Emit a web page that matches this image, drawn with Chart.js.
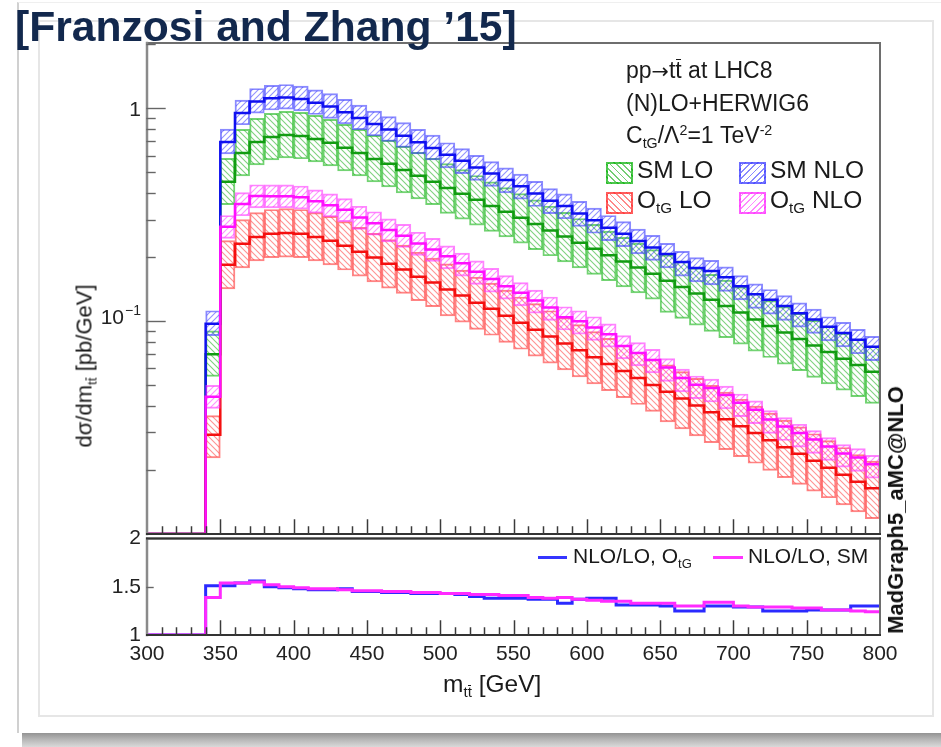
<!DOCTYPE html>
<html>
<head>
<meta charset="utf-8">
<title>ttbar invariant mass with O_tG</title>
<script src="https://cdn.jsdelivr.net/npm/chart.js@4.4.1/dist/chart.umd.min.js"></script>
<style>
  html, body { margin: 0; padding: 0; background: #ffffff; }
  body { position: relative; width: 941px; height: 747px; overflow: hidden;
         font-family: "Liberation Sans", Arial, Helvetica, sans-serif; color: #1c1c1c; }
  .abs { position: absolute; white-space: nowrap; }
  #shadow { left: 22px; top: 732px; width: 919px; height: 15px;
            background: linear-gradient(to bottom, #8e8e8e 0%, #b3b3b3 45%, #d9d9d9 100%); }
  #card { left: 17px; top: 2px; width: 940px; height: 731px; background: #fff;
          border-left: 2px solid #d0d0d0; border-top: 1px solid #efefef; box-sizing: border-box; }
  #inner { left: 38px; top: 20px; width: 896px; height: 697px; border: 2px solid #e6e6e6; box-sizing: border-box; }
  #title { left: 15px; top: 5px; font-size: 42.6px; line-height: 42px; font-weight: bold; color: #12284d; }
  canvas { position: absolute; left: 0; }
  #mainChart { top: 0; }
  #ratioChart { top: 520px; }
  .note { font-size: 23px; line-height: 23px; color: #1a1a1a; }
  .entry { font-size: 24.5px; line-height: 24px; color: #1a1a1a; }
  .sub { position: relative; top: 0.35em; font-size: 0.62em; }
  .sup { position: relative; top: -0.55em; font-size: 0.62em; }
  .ov { position: relative; }
  .ov::after { content: ''; position: absolute; left: 0.04em; right: 0.04em; top: 0.1em;
               border-top: 1px solid currentColor; }
  .arrow { font-family: "DejaVu Sans", sans-serif; font-size: 0.9em; }
  .box { width: 27px; height: 22px; border: 2px solid; box-sizing: border-box; }
  #ytitle { left: 86px; top: 366px; font-size: 22px; line-height: 22px;
            transform: translate(-50%, -50%) rotate(-90deg); color: #1a1a1a; }
  #mg { left: 896px; top: 510px; font-size: 22px; line-height: 22px; font-weight: bold;
        transform: translate(-50%, -50%) rotate(-90deg); color: #111; }
  #xtitle { left: 443px; top: 672px; font-size: 24.5px; line-height: 24px; color: #1a1a1a; }
  .rleg { font-size: 21px; line-height: 21px; color: #1a1a1a; }
  .rline { height: 3px; }
</style>
</head>
<body>
<div id="shadow" class="abs"></div>
<div id="card" class="abs"></div>
<div id="inner" class="abs"></div>

<canvas id="mainChart" width="941" height="540"></canvas>
<canvas id="ratioChart" width="941" height="180"></canvas>

<div id="title" class="abs">[Franzosi and Zhang ’15]</div>

<div class="abs note" style="left:626px;top:59px">pp<span class="arrow">→</span>t<span class="ov">t</span> at LHC8</div>
<div class="abs note" style="left:626px;top:92px">(N)LO+HERWIG6</div>
<div class="abs note" style="left:626px;top:124px">C<span class="sub">tG</span>/Λ<span class="sup">2</span>=1 TeV<span class="sup">-2</span></div>

<div class="abs box" style="left:606px;top:162px;border-color:rgba(0,175,0,0.7);background:repeating-linear-gradient(45deg, rgba(0,165,0,0.55) 0 1.2px, transparent 1.2px 4.5px);"></div>
<div class="abs entry" style="left:637px;top:158px">SM LO</div>
<div class="abs box" style="left:739px;top:162px;border-color:rgba(60,60,255,0.75);background:repeating-linear-gradient(-45deg, rgba(40,40,255,0.55) 0 1.2px, transparent 1.2px 4.5px);"></div>
<div class="abs entry" style="left:770px;top:158px">SM NLO</div>
<div class="abs box" style="left:606px;top:192px;border-color:rgba(255,40,40,0.75);background:repeating-linear-gradient(45deg, rgba(255,40,40,0.55) 0 1.2px, transparent 1.2px 4.5px);"></div>
<div class="abs entry" style="left:637px;top:188px">O<span class="sub">tG</span> LO</div>
<div class="abs box" style="left:739px;top:192px;border-color:rgba(255,40,255,0.75);background:repeating-linear-gradient(-45deg, rgba(255,40,255,0.55) 0 1.2px, transparent 1.2px 4.5px);"></div>
<div class="abs entry" style="left:770px;top:188px">O<span class="sub">tG</span> NLO</div>

<div class="abs rline" style="left:538px;top:556px;width:29px;background:#3535ff"></div>
<div class="abs rleg" style="left:573px;top:545px">NLO/LO, O<span class="sub">tG</span></div>
<div class="abs rline" style="left:713px;top:556px;width:30px;background:#ff35ff"></div>
<div class="abs rleg" style="left:748px;top:545px">NLO/LO, SM</div>

<div id="ytitle" class="abs">dσ/dm<span class="sub">t<span class="ov">t</span></span> [pb/GeV]</div>
<div id="xtitle" class="abs">m<span class="sub">t<span class="ov">t</span></span> [GeV]</div>
<div id="mg" class="abs">MadGraph5_aMC@NLO</div>

<script>
// Lower edges of the 10 GeV m_tt bins
const binLow = [340,350,360,370,380,390,400,410,420,430,440,450,460,470,480,490,500,510,520,530,
                540,550,560,570,580,590,600,610,620,630,640,650,660,670,680,690,700,710,720,730,
                740,750,760,770,780,790];
const binWidth = 10;

// dsigma/dm_tt [pb/GeV]: central value and scale-variation envelope
const smLoCentral = [0.070,0.452,0.618,0.696,0.735,0.751,0.743,0.719,0.689,0.653,0.618,0.579,0.549,0.514,0.482,0.452,0.423,0.397,0.372,0.348,0.327,0.306,0.286,0.267,0.250,0.234,0.219,0.204,0.191,0.179,0.167,0.155,0.145,0.135,0.126,0.118,0.110,0.102,0.0950,0.0885,0.0825,0.0768,0.0716,0.0667,0.0622,0.0579];
const smLoUp = [0.090,0.583,0.797,0.898,0.948,0.969,0.958,0.928,0.889,0.842,0.797,0.747,0.708,0.663,0.622,0.583,0.550,0.516,0.484,0.452,0.425,0.398,0.372,0.347,0.325,0.304,0.285,0.265,0.248,0.233,0.217,0.205,0.191,0.178,0.166,0.156,0.145,0.135,0.125,0.117,0.109,0.101,0.0945,0.0880,0.0821,0.0764];
const smLoDown = [0.055,0.353,0.482,0.543,0.573,0.586,0.580,0.561,0.537,0.509,0.482,0.452,0.428,0.401,0.376,0.353,0.321,0.302,0.283,0.264,0.249,0.233,0.217,0.203,0.190,0.178,0.166,0.155,0.145,0.136,0.127,0.110,0.103,0.0959,0.0895,0.0838,0.0781,0.0724,0.0675,0.0628,0.0586,0.0545,0.0508,0.0474,0.0442,0.0411];

const smNloCentral = [0.0973,0.696,0.952,1.079,1.117,1.127,1.107,1.064,1.020,0.960,0.902,0.845,0.796,0.745,0.694,0.651,0.605,0.568,0.528,0.494,0.461,0.431,0.398,0.368,0.348,0.321,0.298,0.275,0.258,0.238,0.222,0.207,0.190,0.178,0.172,0.161,0.146,0.134,0.126,0.118,0.109,0.102,0.0941,0.0881,0.0818,0.0758];
const smNloUp = [0.112,0.800,1.095,1.241,1.285,1.296,1.273,1.224,1.173,1.104,1.037,0.972,0.915,0.857,0.798,0.749,0.690,0.648,0.602,0.563,0.526,0.491,0.454,0.420,0.397,0.366,0.340,0.314,0.294,0.271,0.253,0.232,0.213,0.199,0.193,0.180,0.164,0.150,0.141,0.132,0.122,0.114,0.105,0.0987,0.0916,0.0849];
const smNloDown = [0.0856,0.612,0.838,0.950,0.983,0.992,0.974,0.936,0.898,0.845,0.794,0.744,0.700,0.656,0.611,0.573,0.526,0.494,0.459,0.430,0.401,0.375,0.346,0.320,0.303,0.279,0.259,0.239,0.224,0.207,0.193,0.178,0.163,0.153,0.148,0.138,0.126,0.115,0.108,0.101,0.0937,0.0877,0.0809,0.0758,0.0703,0.0652];

const otgLoCentral = [0.0293,0.184,0.231,0.249,0.258,0.260,0.258,0.249,0.239,0.226,0.212,0.199,0.186,0.175,0.162,0.152,0.141,0.132,0.122,0.1145,0.106,0.0984,0.0913,0.0847,0.0786,0.0730,0.0677,0.0629,0.0583,0.0541,0.0502,0.0466,0.0433,0.0402,0.0373,0.0346,0.0321,0.0298,0.0276,0.0256,0.0238,0.0221,0.0205,0.0190,0.0176,0.0164];
const otgLoUp = [0.036,0.239,0.300,0.324,0.335,0.338,0.335,0.324,0.311,0.294,0.276,0.259,0.242,0.228,0.211,0.198,0.186,0.174,0.161,0.151,0.140,0.130,0.121,0.112,0.104,0.0964,0.0894,0.0830,0.0770,0.0714,0.0663,0.0624,0.0580,0.0539,0.0500,0.0464,0.0430,0.0399,0.0370,0.0343,0.0319,0.0296,0.0275,0.0255,0.0236,0.0220];
const otgLoDown = [0.0228,0.142,0.178,0.192,0.199,0.200,0.199,0.192,0.184,0.174,0.163,0.153,0.143,0.135,0.125,0.117,0.106,0.099,0.0915,0.0859,0.0795,0.0738,0.0685,0.0635,0.0590,0.0548,0.0508,0.0472,0.0437,0.0406,0.0377,0.0336,0.0312,0.0289,0.0269,0.0249,0.0231,0.0215,0.0199,0.0184,0.0171,0.0159,0.0148,0.0137,0.0127,0.0118];

const otgNloCentral = [0.0442,0.278,0.356,0.388,0.387,0.387,0.382,0.366,0.351,0.334,0.307,0.289,0.268,0.252,0.232,0.217,0.202,0.187,0.171,0.158,0.146,0.136,0.125,0.116,0.1045,0.100,0.0934,0.0868,0.0764,0.0709,0.0658,0.0606,0.0541,0.0503,0.0485,0.0450,0.0414,0.0384,0.0345,0.0320,0.0298,0.0278,0.0258,0.0239,0.0229,0.0213];
const otgNloUp = [0.050,0.314,0.402,0.438,0.437,0.437,0.432,0.414,0.397,0.377,0.347,0.327,0.303,0.285,0.262,0.245,0.226,0.209,0.192,0.177,0.164,0.152,0.140,0.130,0.117,0.112,0.105,0.0972,0.0856,0.0794,0.0737,0.0667,0.0595,0.0553,0.0534,0.0495,0.0455,0.0422,0.0380,0.0352,0.0328,0.0306,0.0284,0.0263,0.0252,0.0234];
const otgNloDown = [0.0389,0.245,0.313,0.341,0.341,0.341,0.336,0.322,0.309,0.294,0.270,0.254,0.236,0.222,0.204,0.191,0.176,0.163,0.149,0.137,0.127,0.118,0.109,0.101,0.0909,0.0870,0.0813,0.0755,0.0665,0.0617,0.0572,0.0521,0.0465,0.0433,0.0417,0.0387,0.0356,0.0330,0.0297,0.0275,0.0256,0.0239,0.0222,0.0206,0.0197,0.0183];

// NLO/LO K-factors shown in the lower panel
const ratioOtg = [1.51,1.51,1.54,1.56,1.50,1.49,1.48,1.47,1.47,1.48,1.45,1.45,1.44,1.44,1.43,1.43,1.43,1.42,1.40,1.38,1.38,1.38,1.37,1.37,1.33,1.37,1.38,1.38,1.31,1.31,1.31,1.30,1.25,1.25,1.30,1.30,1.29,1.29,1.25,1.25,1.25,1.26,1.26,1.26,1.30,1.30];
const ratioSm  = [1.39,1.54,1.54,1.55,1.52,1.50,1.49,1.48,1.48,1.47,1.46,1.46,1.45,1.45,1.44,1.44,1.43,1.43,1.42,1.42,1.41,1.41,1.39,1.38,1.39,1.37,1.36,1.35,1.35,1.33,1.33,1.33,1.30,1.30,1.34,1.34,1.30,1.29,1.29,1.29,1.28,1.28,1.26,1.26,1.25,1.24];

// Axis ranges and tick labels
const X_MIN = 300, X_MAX = 800;
const Y_MIN = 0.01, Y_MAX = 2.03;
const R_MIN = 1, R_MAX = 2;
const xTickValues = [300,350,400,450,500,550,600,650,700,750,800];
const xTickLabels = ['300','350','400','450','500','550','600','650','700','750','800'];
const mainYTickValues = [1, 0.1];
const mainYTickBase = ['1', '10'];
const mainYTickExp = ['', '\u22121'];
const ratioYTickValues = [1, 1.5, 2];
const ratioYTickLabels = ['1', '1.5', '2'];

const FONT = '"Liberation Sans", Arial, Helvetica, sans-serif';
Chart.defaults.font.family = FONT;

// Diagonal hatch pattern used for the scale-uncertainty boxes
function hatch(color, dir) {
  const s = 6;
  const c = document.createElement('canvas');
  c.width = s; c.height = s;
  const g = c.getContext('2d');
  g.strokeStyle = color; g.lineWidth = 1.1;
  g.beginPath();
  if (dir === 'back') {
    g.moveTo(0, 0); g.lineTo(s, s);
    g.moveTo(-2, s - 2); g.lineTo(2, s + 2);
    g.moveTo(s - 2, -2); g.lineTo(s + 2, 2);
  } else {
    g.moveTo(0, s); g.lineTo(s, 0);
    g.moveTo(-2, 2); g.lineTo(2, -2);
    g.moveTo(s - 2, s + 2); g.lineTo(s + 2, s - 2);
  }
  g.stroke();
  return g.createPattern(c, 'repeat');
}

// One floating bar per bin spanning the envelope
function band(label, lo, hi, fill, edge, order) {
  return {
    type: 'bar', label, order,
    data: binLow.map((x, i) => ({ x: x + binWidth / 2, y: [lo[i], hi[i]] })),
    backgroundColor: fill, borderColor: edge, borderWidth: 1.3, borderSkipped: false,
    barPercentage: 1, categoryPercentage: 1, grouped: false
  };
}

// Histogram outline: empty below threshold, then one step per bin
function step(label, vals, floor, color, width, order) {
  const pts = [{ x: X_MIN, y: floor }];
  binLow.forEach((x, i) => pts.push({ x, y: vals[i] }));
  pts.push({ x: binLow[binLow.length - 1] + binWidth, y: vals[vals.length - 1] });
  return {
    type: 'line', label, order, data: pts, stepped: 'before',
    borderColor: color, borderWidth: width, pointRadius: 0, fill: false, tension: 0
  };
}

function drawXTicks(ctx, xs, bottom) {
  ctx.strokeStyle = '#3a3a3a'; ctx.lineWidth = 1.5;
  for (let m = X_MIN + 10; m < X_MAX; m += 10) {
    const px = Math.round(xs.getPixelForValue(m)) + 0.5;
    const len = m % 50 === 0 ? 14 : 7;
    ctx.beginPath(); ctx.moveTo(px, bottom); ctx.lineTo(px, bottom - len); ctx.stroke();
  }
}

function drawFrame(ctx, a, bottomColor) {
  ctx.lineCap = 'square';
  ctx.strokeStyle = '#6e6e6e'; ctx.lineWidth = 2;
  ctx.beginPath(); ctx.moveTo(a.left, a.top); ctx.lineTo(a.right, a.top); ctx.stroke();
  ctx.beginPath(); ctx.moveTo(a.right, a.top); ctx.lineTo(a.right, a.bottom); ctx.stroke();
  ctx.strokeStyle = '#8a8a8a'; ctx.lineWidth = 2.5;
  ctx.beginPath(); ctx.moveTo(a.left, a.top); ctx.lineTo(a.left, a.bottom); ctx.stroke();
  ctx.strokeStyle = bottomColor; ctx.lineWidth = 2;
  ctx.beginPath(); ctx.moveTo(a.left, a.bottom); ctx.lineTo(a.right, a.bottom); ctx.stroke();
}

const mainDecor = {
  id: 'mainDecor',
  afterDraw(chart) {
    const ctx = chart.ctx, a = chart.chartArea;
    const xs = chart.scales.x, ys = chart.scales.y;
    ctx.save();
    drawFrame(ctx, a, '#333333');
    drawXTicks(ctx, xs, a.bottom);
    // log-axis ticks, long at decades
    ctx.strokeStyle = '#666'; ctx.lineWidth = 1.4;
    for (const dec of [0.01, 0.1, 1]) {
      for (let k = 1; k <= 9; k++) {
        const v = dec * k;
        if (v <= Y_MIN || v >= Y_MAX) continue;
        const py = Math.round(ys.getPixelForValue(v)) + 0.5;
        const len = k === 1 ? 18 : 8;
        ctx.beginPath(); ctx.moveTo(a.left, py); ctx.lineTo(a.left + len, py); ctx.stroke();
      }
    }
    // decade labels with superscript exponent
    ctx.fillStyle = '#222'; ctx.textAlign = 'right'; ctx.textBaseline = 'middle';
    mainYTickValues.forEach((v, i) => {
      const py = ys.getPixelForValue(v);
      const xr = a.left - 6;
      if (mainYTickExp[i]) {
        ctx.font = '14px ' + FONT;
        const ew = ctx.measureText(mainYTickExp[i]).width;
        ctx.fillText(mainYTickExp[i], xr, py - 10);
        ctx.font = '21px ' + FONT;
        ctx.fillText(mainYTickBase[i], xr - ew - 1, py - 3);
      } else {
        ctx.font = '21px ' + FONT;
        ctx.fillText(mainYTickBase[i], xr, py + 2);
      }
    });
    ctx.restore();
  }
};

const ratioDecor = {
  id: 'ratioDecor',
  afterDraw(chart) {
    const ctx = chart.ctx, a = chart.chartArea;
    const xs = chart.scales.x, ys = chart.scales.y;
    ctx.save();
    drawFrame(ctx, a, '#333333');
    ctx.strokeStyle = '#333333'; ctx.lineWidth = 2;
    ctx.beginPath(); ctx.moveTo(a.left, a.top); ctx.lineTo(a.right, a.top); ctx.stroke();
    drawXTicks(ctx, xs, a.bottom);
    ctx.strokeStyle = '#666'; ctx.lineWidth = 1.4;
    const py = Math.round(ys.getPixelForValue(1.5)) + 0.5;
    ctx.beginPath(); ctx.moveTo(a.left, py); ctx.lineTo(a.left + 6, py); ctx.stroke();
    ctx.restore();
  }
};

const mainCtx = document.getElementById('mainChart').getContext('2d');

new Chart(mainCtx, {
  type: 'bar',
  data: {
    datasets: [
      band('SM LO scale band', smLoDown, smLoUp, hatch('rgba(0,165,0,0.5)', 'back'), 'rgba(0,175,0,0.55)', 8),
      step('SM LO', smLoCentral, Y_MIN, '#129c12', 2.5, 7),
      band('SM NLO scale band', smNloDown, smNloUp, hatch('rgba(40,40,255,0.5)', 'fwd'), 'rgba(60,60,255,0.6)', 6),
      step('SM NLO', smNloCentral, Y_MIN, '#1010f0', 2.5, 5),
      band('OtG LO scale band', otgLoDown, otgLoUp, hatch('rgba(255,40,40,0.5)', 'back'), 'rgba(255,50,50,0.6)', 4),
      step('OtG LO', otgLoCentral, Y_MIN, '#f41010', 2.5, 3),
      band('OtG NLO scale band', otgNloDown, otgNloUp, hatch('rgba(255,40,255,0.5)', 'fwd'), 'rgba(255,50,255,0.6)', 2),
      step('OtG NLO', otgNloCentral, Y_MIN, '#ff10ff', 2.5, 1)
    ]
  },
  options: {
    responsive: false, animation: false, devicePixelRatio: 1, events: [],
    layout: { padding: { left: 0, right: 61, top: 43, bottom: 0 } },
    plugins: { legend: { display: false }, tooltip: { enabled: false } },
    scales: {
      x: {
        type: 'linear', min: X_MIN, max: X_MAX, offset: false,
        ticks: { display: false }, grid: { display: false }, border: { display: false },
        afterFit: s => { s.height = 6; }
      },
      y: {
        type: 'logarithmic', min: Y_MIN, max: Y_MAX,
        ticks: { display: false }, grid: { display: false }, border: { display: false },
        afterFit: s => { s.width = 147; }
      }
    }
  },
  plugins: [mainDecor]
});

const ratioCtx = document.getElementById('ratioChart').getContext('2d');

new Chart(ratioCtx, {
  type: 'line',
  data: {
    datasets: [
      step('NLO/LO, OtG', ratioOtg, R_MIN, '#2a2aff', 3, 2),
      step('NLO/LO, SM', ratioSm, R_MIN, '#ff2aff', 3, 1)
    ]
  },
  options: {
    responsive: false, animation: false, devicePixelRatio: 1, events: [],
    layout: { padding: { left: 0, right: 61, top: 14, bottom: 0 } },
    plugins: { legend: { display: false }, tooltip: { enabled: false } },
    scales: {
      x: {
        type: 'linear', min: X_MIN, max: X_MAX, offset: false,
        afterBuildTicks: s => { s.ticks = xTickValues.map(v => ({ value: v })); },
        ticks: {
          autoSkip: false, maxRotation: 0, padding: 7, color: '#222',
          font: { size: 21, family: FONT },
          callback: (v, i) => xTickLabels[i]
        },
        grid: { display: false, drawTicks: false }, border: { display: false },
        afterFit: s => { s.height = 65; }
      },
      y: {
        type: 'linear', min: R_MIN, max: R_MAX,
        afterBuildTicks: s => { s.ticks = ratioYTickValues.map(v => ({ value: v })); },
        ticks: {
          padding: 6, color: '#222', font: { size: 21, family: FONT },
          callback: (v, i) => ratioYTickLabels[i]
        },
        grid: { display: false, drawTicks: false }, border: { display: false },
        afterFit: s => { s.width = 147; }
      }
    }
  },
  plugins: [ratioDecor]
});
</script>
</body>
</html>
